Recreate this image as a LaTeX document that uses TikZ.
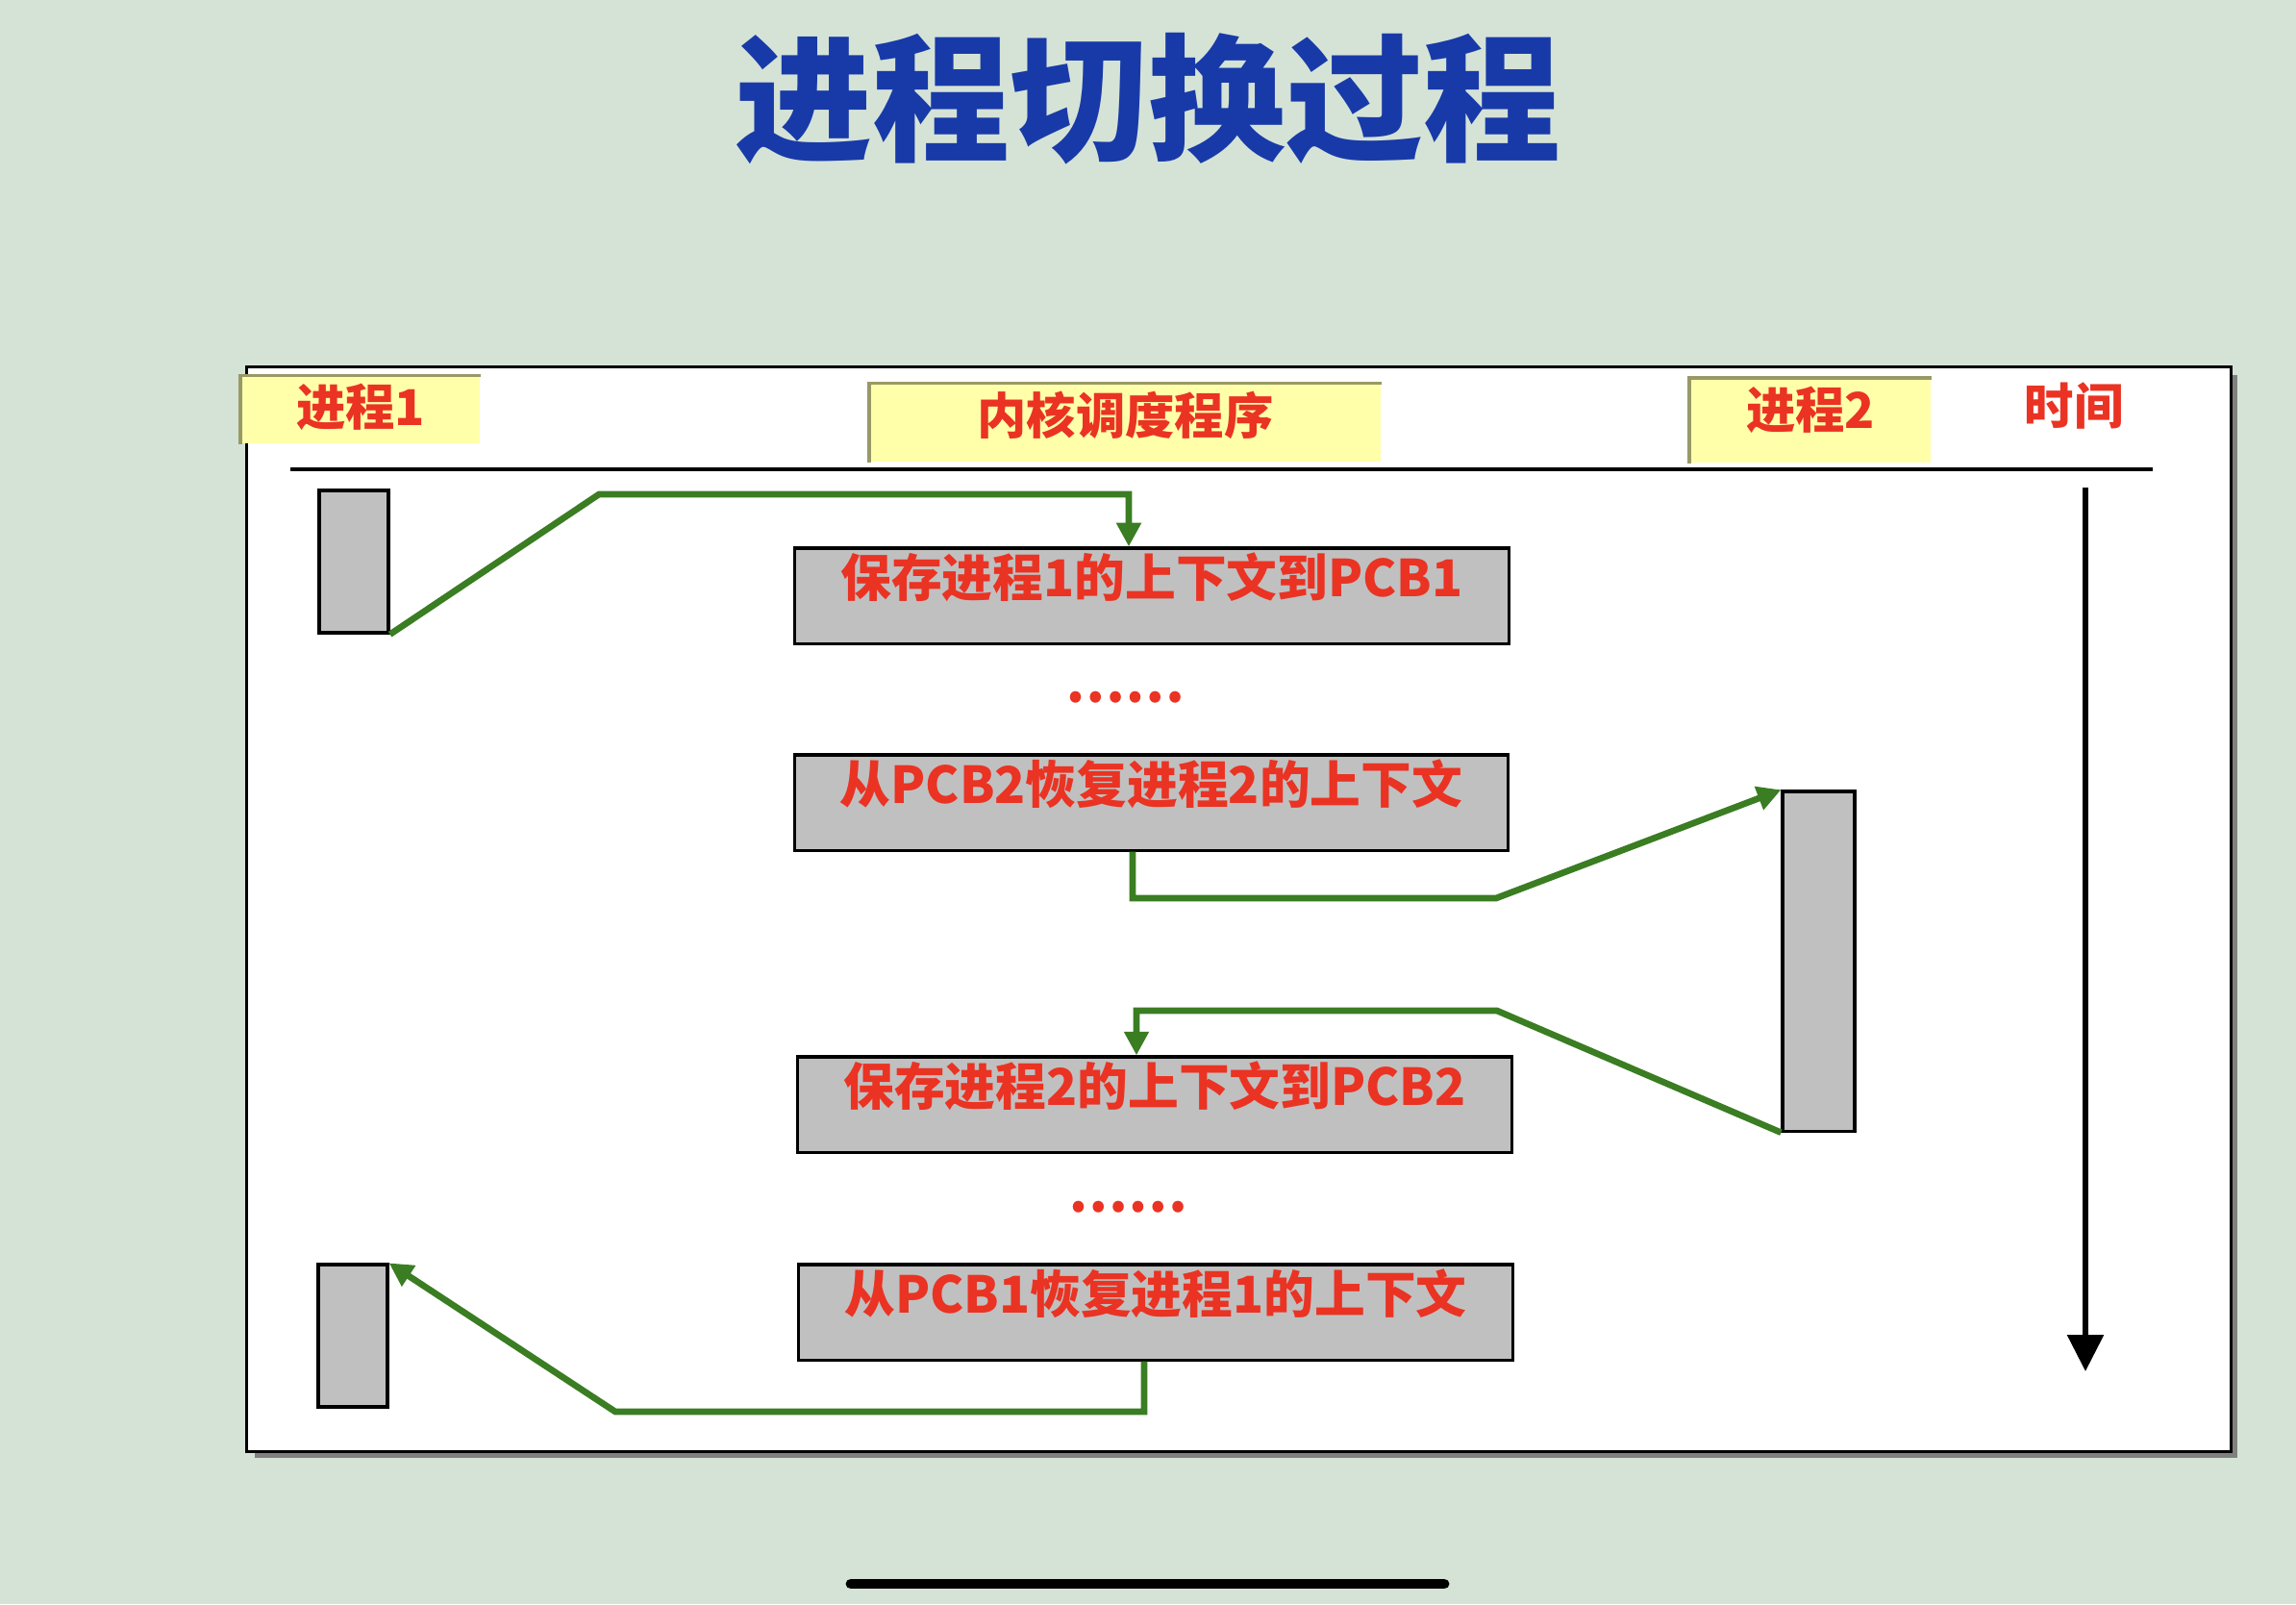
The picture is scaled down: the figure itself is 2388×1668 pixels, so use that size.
\documentclass[tikz,border=0pt]{standalone}
\usepackage{fontspec}
\newfontfamily\cjk{Noto Sans CJK SC}
\usetikzlibrary{arrows.meta}
\definecolor{bg}{RGB}{213,227,215}
\definecolor{ttl}{RGB}{24,58,168}
\definecolor{txtred}{RGB}{234,51,35}
\definecolor{grn}{RGB}{58,125,34}
\definecolor{yel}{RGB}{255,255,170}
\definecolor{yedge}{RGB}{153,153,102}
\definecolor{boxgray}{RGB}{192,192,192}
\definecolor{shadowgray}{RGB}{128,128,128}
\begin{document}
\begin{tikzpicture}[x=0.01cm,y=-0.01cm,
  procbox/.style={draw=black, line width=0.9pt, fill=boxgray, inner sep=0pt},
  stepbox/.style={procbox, font=\cjk\bfseries\fontsize{15}{18}\selectfont, text=txtred,
    text height=14.3pt, text depth=13.9pt, minimum width=7.42cm},
  headbox/.style={fill=yel, inner sep=0pt, font=\cjk\bfseries\fontsize{14.6}{17}\selectfont, text=txtred},
  headedge/.style={draw=yedge, line width=1pt},
  flow/.style={draw=grn, line width=1.9pt, line join=miter},
  flowarrow/.style={flow, -{Triangle[width=7pt,length=7pt]}},
  dots/.style={font=\cjk\bfseries\fontsize{15.6}{18}\selectfont, text=txtred, inner sep=0pt},
]
\fill[bg] (0,0) rectangle (2388,1668);
\useasboundingbox (0,0) rectangle (2388,1668);

% title
\node[font=\cjk\bfseries\fontsize{40.7}{46}\selectfont, text=ttl, inner sep=0pt] (title) at (1194,103) {进程切换过程};

% frame with shadow
\fill[shadowgray] (265,390) rectangle (2327,1516);
\node[draw=black, fill=white, line width=1pt, inner sep=0pt, minimum width=20.63cm, minimum height=11.27cm] (frame) at (1288.5,945.5) {};

% headers
\node[headbox, minimum width=2.48cm, minimum height=0.70cm, text height=14.5pt, text depth=5.4pt] (p1h) at (375,426) {进程1};
\draw[headedge] (p1h.south west) -- (p1h.north west) -- (p1h.north east);
\node[headbox, minimum width=5.31cm, minimum height=0.81cm, text height=14.8pt, text depth=8.25pt] (kh) at (1170.5,439.5) {内核调度程序};
\draw[headedge] (kh.south west) -- (kh.north west) -- (kh.north east);
\node[headbox, minimum width=2.50cm, minimum height=0.87cm, text height=14.8pt, text depth=10pt] (p2h) at (1883,437.5) {进程2};
\draw[headedge] (p2h.south west) -- (p2h.north west) -- (p2h.north east);
\node[font=\cjk\bfseries\fontsize{14.6}{17}\selectfont, text=txtred, inner sep=0pt] (time) at (2157,422) {时间};

% separator line
\coordinate (sepL) at (302,488);
\coordinate (sepR) at (2239,488);
\draw[line width=0.9pt] (sepL) -- (sepR);

% time arrow
\coordinate (t0) at (2169,507);
\coordinate (t1) at (2169,1426);
\draw[line width=1.7pt, -{Triangle[width=10.5pt,length=10.8pt]}] (t0) -- (t1);

% process bars
\node[procbox, minimum width=0.72cm, minimum height=1.48cm] (p1a) at (368,584) {};
\node[procbox, minimum width=0.72cm, minimum height=1.48cm] (p1b) at (367,1389) {};
\node[procbox, minimum width=0.75cm, minimum height=3.53cm] (p2) at (1891.5,999.5) {};

% kernel steps
\node[stepbox] (s1) at (1198,619.5) {保存进程1的上下文到PCB1};
\node[stepbox] (s2) at (1197.5,834.5) {从PCB2恢复进程2的上下文};
\node[stepbox] (s3) at (1201,1148.5) {保存进程2的上下文到PCB2};
\node[stepbox] (s4) at (1202,1364.5) {从PCB1恢复进程1的上下文};

\node[dots] (d1) at (1170,725) {……};
\node[dots] (d2) at (1173,1255) {……};

% connectors
\coordinate (c1a) at (623,514);
\coordinate (c1b) at (1174,514);
\draw[flowarrow] (p1a.south east) -- (c1a) -- (c1b) -- (c1b |- s1.north);

\coordinate (c2b) at (1178,934);
\coordinate (c2c) at (1556,934);
\draw[flowarrow] (c2b |- s2.south) -- (c2b) -- (c2c) -- (p2.north west);

\coordinate (c3a) at (1557,1051);
\coordinate (c3b) at (1182,1051);
\draw[flowarrow] (p2.south west) -- (c3a) -- (c3b) -- (c3b |- s3.north);

\coordinate (c4a) at (1190,1468);
\coordinate (c4b) at (640,1468);
\draw[flowarrow] (c4a |- s4.south) -- (c4a) -- (c4b) -- (p1b.north east);

% bottom bar
\coordinate (barL) at (885,1647);
\coordinate (barR) at (1502,1647);
\draw[line width=3.1pt, line cap=round] (barL) -- (barR);
\end{tikzpicture}
\end{document}
